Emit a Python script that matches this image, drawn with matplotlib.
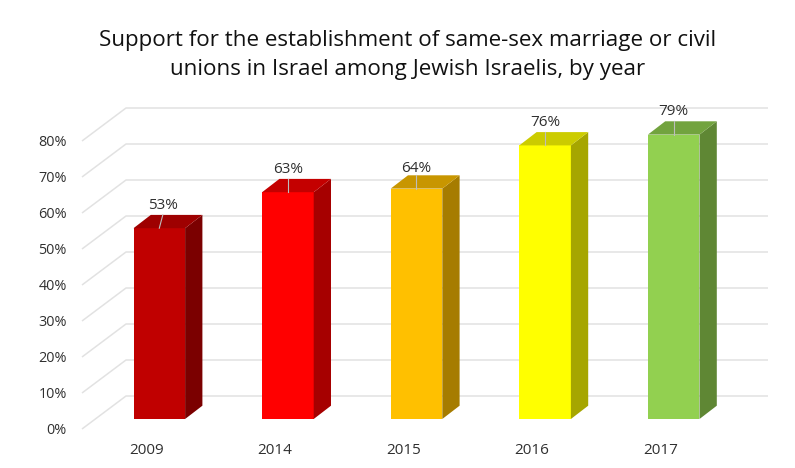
import matplotlib
matplotlib.use("Agg")
import matplotlib.pyplot as plt

plt.rcParams['font.family'] = ['Open Sans', 'DejaVu Sans']

# Chart data
years = ["2009", "2014", "2015", "2016", "2017"]
support = [53, 63, 64, 76, 79]
axis_ticks = [0, 10, 20, 30, 40, 50, 60, 70, 80]
title = "Support for the establishment of same-sex marriage or civil\nunions in Israel among Jewish Israelis, by year"

front_colors = ["#C00000", "#FF0000", "#FFC000", "#FFFF00", "#92D050"]
top_colors = ["#9E0000", "#C40000", "#C89600", "#CCCC00", "#72A33E"]
side_colors = ["#7B0000", "#A60000", "#A67C00", "#A6A600", "#5F8734"]

W, H = 795, 468
PX_X = 128.6   # pixels per category
PX_Y = 3.6     # pixels per percentage point

fig = plt.figure(figsize=(W / 100, H / 100), dpi=100, facecolor="white")

# axes = the front plane of the fake 3D floor, from x=82 to x=768, y=429 up to y=108
ax = fig.add_axes([82 / W, 1 - 429 / H, (768 - 82) / W, (429 - 108) / H])
ax.set_xlim((82 - 159.3) / PX_X, (768 - 159.3) / PX_X)
ax.set_ylim(0, (429 - 108) / PX_Y)
ax.patch.set_visible(False)
for s in ax.spines.values():
    s.set_visible(False)

# depth of the walls and of the bars, in data units
wall_dx, wall_dy = 44 / PX_X, 33 / PX_Y
bar_dx, bar_dy = 17.3 / PX_X, 13.3 / PX_Y
bar_lift = 10 / PX_Y
half = 25.8 / PX_X

# gridlines: slanted part then back wall
for t in axis_ticks:
    ax.plot([ax.get_xlim()[0], ax.get_xlim()[0] + wall_dx, ax.get_xlim()[1]],
            [t, t + wall_dy, t + wall_dy],
            color="#E2E2E2", lw=1.1, clip_on=False, zorder=1, solid_capstyle="butt")

# bars
for i, v in enumerate(support):
    l, r = i - half, i + half
    b, t = bar_lift, bar_lift + v
    ax.fill([l, r, r, l], [b, b, t, t], color=front_colors[i], lw=0, zorder=3, clip_on=False)
    ax.fill([r, r + bar_dx, r + bar_dx, r], [b, b + bar_dy, t + bar_dy, t],
            color=side_colors[i], lw=0, zorder=3, clip_on=False)
    ax.fill([l, r, r + bar_dx, l + bar_dx], [t, t, t + bar_dy, t + bar_dy],
            color=top_colors[i], lw=0, zorder=3, clip_on=False)
    # leader line and value label, the first one leans to the right
    lean = 3.5 / PX_X if i == 0 else 0
    ax.plot([i, i + lean], [t, t + bar_dy], color="#BDBDBD", lw=0.8,
            zorder=4, clip_on=False)
    # 64% sits a little closer to its bar in the original
    gap = 20 if v == 64 else 23
    ax.text(i + lean, t + gap / PX_Y, f"{v}%", ha="center", va="center",
            fontsize=11, color="#303030", zorder=5, clip_on=False)

# axis labels
ax.set_yticks(axis_ticks)
ax.set_yticklabels([f"{t}%" for t in axis_ticks], fontsize=10.4, color="#303030")
ax.tick_params(axis="y", length=0, pad=11)
ax.set_xticks([i - 13 / PX_X for i in range(len(years))])
ax.set_xticklabels(years, fontsize=11, color="#303030")
ax.tick_params(axis="x", length=0, pad=10)

fig.text(408 / W, 1 - 55 / H, title, ha="center", va="center", fontsize=16.15,
         color="#111111", linespacing=1.55)

fig.savefig("out.png", dpi=100)
